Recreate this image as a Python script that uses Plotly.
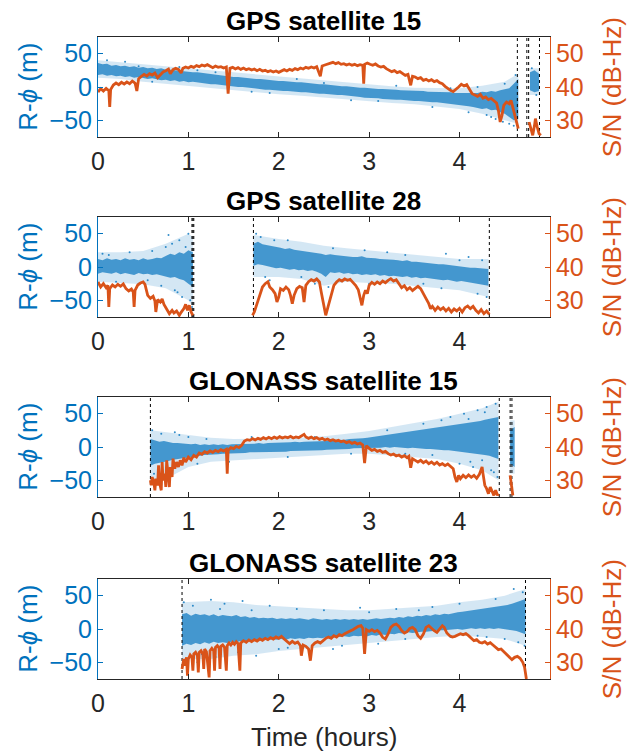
import numpy as np
import plotly.graph_objects as go

BLUE = "#0072BD"
ORANGE = "#D95319"
DARK = "#262626"
FONT = "Liberation Sans, Arial, sans-serif"

titles = ["GPS satellite 15", "GPS satellite 28", "GLONASS satellite 15", "GLONASS satellite 23"]
x_ticks = [0, 1, 2, 3, 4]
left_ticks = [-50, 0, 50]
right_ticks = [30, 40, 50]

# ---------- R-phi (m): dense-core upper / lower values read every 0.05 h, per segment ----------
# panel 1
p1_seg_start = [0.0, 4.78]
p1_hi = [[36, 34, 35, 32, 33, 31, 32, 30, 31, 29, 30, 28, 29, 27, 28, 26, 26, 25, 24, 24,
          23, 22, 22, 21, 20, 19, 19, 17, 17, 16, 15, 15, 14, 13, 13, 12, 12, 11, 10, 10,
          9, 9, 8, 8, 7, 7, 6, 5, 5, 4, 4, 3, 3, 2, 1, 1, 0, 0, -1, -1,
          -2, -2, -3, -3, -3, -4, -4, -5, -5, -5, -6, -6, -6, -7, -7, -7, -8, -8, -8, -9,
          -9, -8, -9, -8, -9, -7, -8, -6, -7, -5, -4, -2, 5, 12],
         [22, 25, 20]]
p1_lo = [[18, 19, 17, 18, 16, 17, 15, 16, 14, 15, 13, 12, 13, 11, 10, 11, 9, 10, 8, 9,
          7, 8, 6, 6, 5, 4, 4, 3, 2, 2, 1, 0, 0, -1, -2, -2, -3, -4, -4, -5,
          -5, -6, -6, -7, -7, -8, -8, -9, -9, -10, -10, -11, -11, -12, -12, -13, -14, -14, -15, -16,
          -16, -17, -17, -18, -18, -19, -19, -19, -20, -20, -21, -21, -22, -22, -23, -23, -24, -24, -25, -26,
          -27, -28, -29, -30, -31, -33, -32, -35, -34, -38, -40, -45, -50, -48],
         [-5, -8, -6]]
# sparse outer envelope (read at coarser times)
p1_env_t = [[0.0, 0.25, 0.5, 0.75, 1.0, 1.25, 1.5, 1.75, 2.0, 2.25, 2.5, 2.75, 3.0, 3.25, 3.5, 3.75, 4.0, 4.25, 4.5, 4.65],
            [4.78, 4.88]]
p1_env_hi = [[40, 37, 34, 31, 28, 25, 21, 18, 15, 12, 10, 6, 4, 1, -1, -2, -2, 2, 8, 20], [28, 28]]
p1_env_lo = [[14, 12, 8, 5, 2, -2, -5, -8, -11, -13, -15, -18, -21, -24, -26, -29, -33, -40, -50, -55], [-12, -12]]
p1_out_t = [0.1, 0.3, 0.6, 0.9, 1.3, 1.7, 2.2, 2.8, 3.3, 3.7, 4.1, 4.2, 4.3, 4.4, 4.5, 4.55, 4.62, 4.6, 4.8, 4.85,
            0.45, 1.1, 1.9, 2.5, 3.1, 3.9, 4.35, 4.48]
p1_out_v = [40, 38, 8, 30, 22, -7, 12, -20, 2, -30, -38, 0, -42, -48, 5, -55, 18, -58, 28, -12,
            31, 25, -9, 6, -21, -2, -45, -52]

# panel 2
p2_seg_start = [0.0, 1.72]
p2_hi = [[12, 10, 13, 11, 12, 10, 13, 11, 12, 10, 13, 11, 12, 14, 13, 16, 20, 18, 22, 20, 25, 22],
         [35, 38, 34, 33, 31, 30, 29, 27, 28, 26, 25, 24, 24, 22, 21, 20, 18, 19, 18, 17,
          17, 16, 15, 15, 16, 14, 14, 13, 12, 12, 11, 11, 10, 9, 10, 8, 8, 7, 6, 6,
          5, 4, 4, 3, 2, 2, 1, 0, -1, -1, -2, -2, -3]]
p2_lo = [[-10, -8, -9, -10, -8, -11, -9, -10, -12, -9, -11, -10, -12, -11, -13, -14, -16, -15, -18, -20, -25, -30],
         [2, 4, 3, 1, 0, -2, -1, -3, -4, -3, -5, -4, -6, -5, -7, -10, -15, -8, -9, -8,
          -10, -9, -11, -10, -12, -11, -12, -11, -13, -12, -14, -13, -14, -15, -14, -16, -15, -17, -16, -18,
          -18, -19, -20, -19, -21, -22, -21, -23, -24, -25, -26, -27, -28]]
p2_env_t = [[0.0, 0.25, 0.5, 0.75, 1.0, 1.05],
            [1.72, 2.0, 2.25, 2.5, 2.75, 3.0, 3.25, 3.5, 3.75, 4.0, 4.32]]
p2_env_hi = [[22, 22, 24, 35, 50, 45], [48, 42, 38, 32, 28, 25, 22, 18, 15, 12, 12]]
p2_env_lo = [[-22, -24, -26, -32, -50, -60], [-15, -15, -18, -28, -22, -24, -25, -28, -32, -35, -45]]
p2_out_t = [0.05, 0.2, 0.35, 0.45, 0.6, 0.7, 0.78, 0.82, 0.85, 0.9, 0.93, 0.97, 1.0, 1.02, 1.04,
            1.75, 1.8, 1.85, 1.9, 2.1, 2.4, 2.55, 2.6, 2.95, 3.0, 3.4, 3.8, 3.85, 4.1, 4.2, 4.3, 4.25,
            0.12, 0.55, 0.75, 0.88, 1.95, 2.25, 3.2, 3.6, 4.0]
p2_out_v = [20, -22, 22, -25, 24, -28, 48, 35, -35, 40, -45, 30, 50, -50, -60,
            50, 45, -15, -20, 40, -25, -30, 28, 25, -25, 18, -32, 20, 15, -40, -45, 10,
            18, -20, 30, -38, 40, -15, 22, -25, 10]

# panel 3
p3_seg_start = [0.58, 4.56]
p3_hi = [[12, 10, 8, 9, 7, 6, 6, 5, 4, 4, 5, 3, 4, 3, 4, 3, 4, 3, 4, 4,
          5, 4, 5, 5, 6, 5, 6, 6, 7, 6, 7, 7, 8, 7, 8, 8, 9, 8, 9, 9,
          10, 10, 11, 11, 12, 12, 13, 13, 14, 15, 15, 16, 17, 18, 19, 20, 21, 22, 23, 24,
          25, 26, 27, 28, 29, 30, 31, 32, 33, 34, 35, 36, 38, 39, 41, 42, 44, 45],
         [25, 30]]
p3_lo = [[-28, -25, -24, -22, -21, -19, -18, -17, -15, -14, -14, -13, -12, -12, -11, -11, -10, -10, -10, -9,
          -9, -9, -8, -8, -8, -8, -7, -8, -7, -7, -7, -6, -6, -6, -6, -5, -5, -5, -5, -4,
          -4, -4, -3, -3, -3, -2, -2, -2, -1, -1, -1, -1, 0, -1, 0, -1, -1, -2, -1, -2,
          -2, -3, -3, -4, -4, -5, -5, -6, -6, -7, -8, -9, -10, -11, -12, -13, -15, -18],
         [-25, -30]]
p3_env_t = [[0.58, 0.75, 1.0, 1.25, 1.5, 1.75, 2.0, 2.25, 2.5, 2.75, 3.0, 3.25, 3.5, 3.75, 4.0, 4.25, 4.43],
            [4.56, 4.61]]
p3_env_hi = [[25, 22, 18, 14, 12, 12, 13, 14, 16, 20, 24, 30, 36, 42, 50, 58, 68], [40, 40]]
p3_env_lo = [[-55, -48, -30, -22, -20, -17, -15, -13, -12, -10, -10, -12, -15, -18, -25, -35, -50], [-40, -40]]
p3_out_t = [0.6, 0.62, 0.65, 0.7, 0.75, 0.8, 0.9, 1.0, 1.1, 1.2, 1.45, 1.7, 2.1, 2.4, 2.8, 3.2,
            3.4, 3.6, 3.7, 3.9, 4.0, 4.05, 4.15, 4.2, 4.3, 4.35, 4.4, 4.42, 4.25, 4.1,
            0.68, 0.85, 3.8, 4.12, 4.28, 4.38]
p3_out_v = [25, -40, -56, 20, -45, -35, 18, 15, -25, 12, -22, 15, -15, 15, -10, 25,
            -10, 35, -12, 45, -25, 50, -30, 55, 60, -35, 65, -45, -20, 42,
            -50, 22, 40, -22, 52, -38]

# panel 4
p4_seg_start = [0.93]
p4_hi = [[22, 24, 20, 23, 21, 22, 20, 22, 19, 21, 20, 19, 21, 18, 19, 17, 18, 16, 17, 16,
          17, 15, 16, 15, 16, 15, 16, 15, 14, 16, 15, 14, 15, 14, 15, 14, 15, 14, 15, 14,
          15, 14, 15, 16, 15, 16, 17, 16, 18, 17, 19, 18, 20, 19, 21, 20, 22, 21, 23, 22,
          24, 25, 26, 27, 28, 28, 29, 30, 31, 32, 33, 34, 36, 38, 40, 42, 45]]
p4_lo = [[-25, -22, -24, -21, -23, -20, -22, -19, -21, -20, -21, -19, -20, -18, -19, -17, -18, -17, -16, -17,
          -15, -16, -15, -16, -14, -15, -14, -15, -13, -14, -13, -14, -12, -13, -12, -12, -11, -12, -10, -11,
          -10, -11, -9, -10, -8, -9, -7, -8, -6, -7, -5, -6, -5, -4, -4, -3, -3, -2, -2, -1,
          -1, 0, -1, 0, 1, 0, 1, 0, 1, 0, 1, 0, -1, -2, -3, -5, -8]]
p4_env_t = [[0.93, 1.25, 1.5, 1.75, 2.0, 2.25, 2.5, 2.75, 3.0, 3.25, 3.5, 3.75, 4.0, 4.25, 4.5, 4.73]]
p4_env_hi = [[40, 42, 40, 36, 34, 32, 30, 28, 28, 30, 32, 35, 40, 44, 50, 60]]
p4_env_lo = [[-45, -45, -40, -38, -33, -30, -28, -25, -22, -18, -15, -12, -10, -12, -15, -25]]
p4_out_t = [0.95, 1.0, 1.05, 1.15, 1.25, 1.3, 1.4, 1.55, 1.6, 1.75, 1.9, 2.0, 2.2, 2.35, 2.5,
            2.7, 2.9, 3.1, 3.3, 3.4, 3.7, 3.9, 4.0, 4.2, 4.4, 4.5, 4.6, 4.65, 4.7, 4.72,
            1.1, 1.35, 1.7, 2.1, 2.6, 3.0, 3.55, 4.3]
p4_out_v = [40, -45, 35, -38, 44, -42, 38, -35, 42, -40, 35, -30, 30, -35, 28,
            -25, 32, -22, 30, -15, 33, -12, 38, -10, 45, -15, 60, -20, 55, -25,
            -50, 30, 28, -28, -30, 25, 28, -12]

# ---------- S/N (dB-Hz) ----------
p1_sn_t = [0.00, 0.03, 0.06, 0.09, 0.12, 0.13, 0.14, 0.17, 0.20, 0.23, 0.26, 0.29, 0.32, 0.35, 0.38, 0.41, 0.43, 0.45, 0.48, 0.51,
           0.54, 0.57, 0.60, 0.63, 0.66, 0.69, 0.72, 0.75, 0.78, 0.80, 0.83, 0.86, 0.89, 0.92, 0.94, 0.97, 1.00, 1.03, 1.06, 1.09,
           1.12, 1.15, 1.18, 1.21, 1.24, 1.27, 1.30, 1.33, 1.36, 1.39, 1.42, 1.44, 1.46, 1.49, 1.52, 1.55, 1.58, 1.61, 1.64, 1.67,
           1.70, 1.73, 1.76, 1.79, 1.82, 1.85, 1.88, 1.91, 1.94, 1.97, 2.00, 2.03, 2.06, 2.09, 2.12, 2.15, 2.18, 2.21, 2.24, 2.27,
           2.30, 2.33, 2.36, 2.39, 2.42, 2.46, 2.48, 2.51, 2.54, 2.57, 2.60, 2.63, 2.66, 2.69, 2.72, 2.75, 2.78, 2.81, 2.84, 2.87,
           2.90, 2.93, 2.94, 2.95, 2.98, 3.01, 3.04, 3.07, 3.10, 3.13, 3.16, 3.19, 3.22, 3.25, 3.28, 3.31, 3.34, 3.37, 3.40, 3.43,
           3.46, 3.48, 3.51, 3.54, 3.57, 3.60, 3.63, 3.66, 3.69, 3.72, 3.75, 3.78, 3.81, 3.84, 3.87, 3.90, 3.93, 3.96, 3.99, 4.02,
           4.05, 4.08, 4.11, 4.14, 4.17, 4.20, 4.23, 4.26, 4.29, 4.32, 4.35, 4.38, 4.41, 4.43, 4.45, 4.47, 4.49, 4.52, 4.55, 4.57,
           4.59, 4.61, 4.63, 4.65, None, 4.77, 4.79, 4.81, 4.83, 4.84, 4.86, 4.88, 4.90]
p1_sn = [38.5, 39.5, 38.8, 39.6, 38.9, 34.0, 39.2, 40.6, 41.2, 40.7, 41.4, 40.9, 41.5, 41.0, 41.8, 41.2, 38.8, 42.5, 43.2, 43.8,
         43.3, 44.0, 43.6, 44.2, 42.8, 43.8, 44.5, 44.9, 45.4, 44.0, 45.2, 45.6, 45.3, 44.2, 45.6, 46.0, 45.7, 46.2, 45.9, 46.4,
         46.1, 46.6, 46.3, 46.7, 46.2, 45.8, 46.3, 45.9, 46.1, 45.7, 46.0, 38.0, 45.6, 45.9, 45.4, 45.8, 45.3, 45.7, 45.2, 45.5,
         45.1, 45.4, 44.9, 45.3, 44.8, 45.0, 44.6, 44.9, 44.5, 44.8, 44.4, 44.9, 45.2, 44.8, 45.3, 45.0, 45.5, 45.2, 45.7, 45.4,
         45.9, 45.6, 46.0, 45.7, 46.1, 43.2, 46.3, 46.6, 46.9, 47.1, 47.4, 47.0, 47.3, 46.8, 47.0, 46.6, 46.9, 46.5, 46.8, 46.4,
         46.7, 46.5, 41.0, 46.8, 47.2, 46.8, 46.5, 46.9, 46.3, 46.0, 46.2, 45.5, 45.0, 44.6, 44.9, 44.3, 44.6, 44.0, 43.5, 43.8,
         40.5, 43.2, 43.0, 42.5, 42.8, 42.0, 42.3, 41.8, 42.2, 41.6, 41.9, 41.3, 41.0, 40.2, 39.5, 39.0, 38.6, 39.2, 40.0, 40.8,
         40.3, 40.7, 39.5, 38.0, 37.6, 37.2, 37.8, 36.6, 37.0, 36.2, 36.6, 35.8, 35.2, 33.0, 29.5, 31.5, 34.5, 35.5, 35.0, 36.0,
         34.0, 32.0, 30.0, 27.5, None, 29.5, 27.0, 25.5, 28.5, 30.5, 28.0, 26.0, 25.5]

p2_sn_t = [0.00, 0.03, 0.06, 0.09, 0.11, 0.12, 0.13, 0.16, 0.19, 0.22, 0.25, 0.28, 0.31, 0.34, 0.37, 0.39, 0.40, 0.41, 0.44, 0.47,
           0.50, 0.52, 0.55, 0.58, 0.61, 0.63, 0.64, 0.66, 0.69, 0.71, 0.73, 0.76, 0.79, 0.82, 0.84, 0.87, 0.90, 0.92, 0.95, 0.97,
           0.99, 1.01, 1.03, 1.05, None,
           1.71, 1.73, 1.76, 1.79, 1.82, 1.85, 1.88, 1.90, 1.93, 1.96, 1.98, 2.00, 2.02, 2.05, 2.08, 2.11, 2.13, 2.15, 2.17, 2.20,
           2.23, 2.26, 2.28, 2.30, 2.33, 2.36, 2.39, 2.42, 2.45, 2.47, 2.49, 2.51, 2.52, 2.54, 2.56, 2.58, 2.61, 2.64, 2.67, 2.70,
           2.73, 2.76, 2.79, 2.82, 2.85, 2.88, 2.90, 2.92, 2.94, 2.96, 2.98, 3.00, 3.03, 3.06, 3.09, 3.12, 3.15, 3.18, 3.21, 3.24,
           3.27, 3.30, 3.33, 3.36, 3.39, 3.42, 3.45, 3.48, 3.51, 3.54, 3.57, 3.60, 3.63, 3.66, 3.68, 3.70, 3.73, 3.76, 3.79, 3.82,
           3.85, 3.88, 3.91, 3.94, 3.97, 4.00, 4.03, 4.06, 4.09, 4.12, 4.15, 4.18, 4.21, 4.24, 4.27, 4.30, 4.33]
p2_sn = [35.5, 34.0, 35.0, 33.8, 34.5, 28.0, 33.5, 34.6, 34.0, 34.8, 34.2, 34.9, 33.5, 32.8, 33.4, 32.5, 28.0, 33.0, 34.6, 35.2,
         35.5, 34.8, 31.5, 30.6, 31.2, 29.8, 26.5, 30.2, 29.5, 30.4, 28.8, 27.5, 26.0, 27.0, 26.2, 26.8, 25.5, 26.4, 27.5, 28.8,
         27.0, 28.5, 26.5, 25.5, None,
         25.5, 26.5, 29.0, 31.5, 34.0, 35.0, 35.6, 34.0, 33.2, 32.0, 29.5, 31.0, 33.5, 33.0, 34.0, 33.2, 31.5, 29.0, 31.5, 33.5,
         34.2, 33.8, 29.5, 34.5, 35.6, 36.2, 35.8, 36.4, 35.5, 32.5, 30.0, 27.0, 25.5, 27.5, 29.5, 32.0, 34.5, 35.5, 36.2, 35.8,
         36.4, 36.0, 36.3, 35.4, 34.5, 33.2, 31.0, 28.5, 31.5, 33.0, 32.0, 34.5, 35.4, 34.8, 35.5, 35.0, 35.8, 35.3, 36.0, 36.5,
         35.8, 36.2, 35.0, 33.8, 34.4, 33.2, 33.8, 32.9, 33.6, 34.2, 33.5, 31.8, 30.5, 29.0, 27.5, 28.2, 27.0, 28.0, 27.2, 27.8,
         26.8, 27.6, 26.5, 27.4, 26.8, 27.6, 26.5, 27.8, 28.3, 27.5, 28.2, 27.0, 26.2, 27.2, 26.0, 26.8, 25.8]

p3_sn_t = [0.58, 0.59, 0.60, 0.62, 0.63, 0.64, 0.66, 0.67, 0.68, 0.70, 0.71, 0.72, 0.74, 0.75, 0.76, 0.78, 0.79, 0.80, 0.82, 0.83,
           0.85, 0.87, 0.89, 0.91, 0.93, 0.95, 0.97, 1.00, 1.03, 1.06, 1.09, 1.12, 1.15, 1.18, 1.21, 1.24, 1.27, 1.30, 1.33, 1.36,
           1.39, 1.42, 1.43, 1.44, 1.47, 1.50, 1.53, 1.56, 1.59, 1.62, 1.65, 1.68, 1.71, 1.74, 1.77, 1.80, 1.83, 1.86, 1.89, 1.92,
           1.95, 1.98, 2.01, 2.04, 2.07, 2.10, 2.13, 2.16, 2.19, 2.22, 2.25, 2.28, 2.30, 2.33, 2.36, 2.39, 2.42, 2.45, 2.48, 2.51,
           2.54, 2.57, 2.60, 2.63, 2.66, 2.69, 2.72, 2.75, 2.78, 2.81, 2.84, 2.87, 2.90, 2.93, 2.95, 2.97, 3.00, 3.03, 3.06, 3.09,
           3.12, 3.15, 3.18, 3.21, 3.24, 3.27, 3.30, 3.33, 3.36, 3.39, 3.42, 3.44, 3.46, 3.48, 3.51, 3.54, 3.57, 3.60, 3.63, 3.66,
           3.69, 3.72, 3.75, 3.78, 3.81, 3.84, 3.87, 3.90, 3.93, 3.95, 3.97, 3.99, 4.01, 4.04, 4.07, 4.10, 4.13, 4.16, 4.19, 4.22,
           4.24, 4.25, 4.26, 4.28, 4.30, 4.32, 4.34, 4.36, 4.38, 4.40, 4.42, 4.43, None, 4.56, 4.57, 4.58, 4.59]
p3_sn = [30.0, 28.5, 31.0, 29.0, 27.0, 30.5, 28.5, 34.5, 29.5, 27.0, 35.5, 30.0, 32.0, 28.0, 36.0, 30.5, 28.0, 34.0, 31.0, 36.5,
         33.5, 35.5, 34.0, 36.0, 34.5, 36.8, 35.5, 37.0, 36.2, 37.5, 37.0, 38.2, 37.8, 38.6, 38.2, 38.8, 38.4, 39.0, 38.6, 39.2,
         38.8, 39.3, 32.0, 39.0, 39.8, 39.5, 40.2, 39.8, 40.5, 41.8, 42.2, 42.0, 42.5, 42.1, 42.6, 42.3, 42.8, 42.4, 42.9, 42.5,
         43.0, 42.6, 43.1, 42.7, 43.0, 42.8, 43.2, 42.7, 43.0, 42.8, 43.3, 43.8, 43.0, 42.6, 43.0, 42.5, 42.8, 42.3, 42.6, 42.1,
         42.4, 41.9, 42.2, 41.8, 42.0, 41.6, 41.8, 41.3, 41.6, 41.1, 41.4, 40.9, 41.2, 40.6, 35.2, 40.4, 39.6, 39.0, 39.3, 38.7,
         39.0, 38.4, 38.7, 38.0, 37.6, 37.9, 37.3, 37.6, 37.0, 37.4, 36.8, 37.2, 33.8, 36.5, 36.0, 35.5, 36.0, 35.3, 35.8, 35.0,
         35.5, 34.8, 35.4, 34.6, 35.0, 34.4, 34.9, 34.2, 33.5, 31.0, 29.5, 31.5, 30.5, 31.5, 30.8, 31.6, 30.9, 31.5, 30.6, 31.8,
         33.5, 34.0, 32.0, 28.5, 27.5, 26.0, 28.0, 26.5, 25.5, 27.0, 25.5, 26.0, None, 31.5, 29.0, 27.0, 25.5]

p4_sn_t = [0.93, 0.94, 0.95, 0.96, 0.98, 0.99, 1.00, 1.02, 1.04, 1.05, 1.06, 1.08, 1.10, 1.11, 1.12, 1.14, 1.16, 1.17, 1.18, 1.20,
           1.22, 1.23, 1.24, 1.26, 1.28, 1.29, 1.30, 1.32, 1.34, 1.35, 1.36, 1.38, 1.40, 1.42, 1.43, 1.45, 1.47, 1.49, 1.51, 1.53,
           1.55, 1.57, 1.58, 1.61, 1.64, 1.67, 1.70, 1.73, 1.76, 1.79, 1.82, 1.85, 1.88, 1.91, 1.94, 1.97, 2.00, 2.03, 2.06, 2.09,
           2.12, 2.15, 2.18, 2.21, 2.24, 2.25, 2.27, 2.30, 2.33, 2.35, 2.37, 2.40, 2.43, 2.46, 2.49, 2.52, 2.55, 2.58, 2.61, 2.64,
           2.67, 2.70, 2.73, 2.76, 2.79, 2.82, 2.85, 2.88, 2.91, 2.93, 2.95, 2.97, 3.00, 3.03, 3.06, 3.09, 3.12, 3.15, 3.18, 3.21,
           3.24, 3.27, 3.30, 3.33, 3.36, 3.39, 3.42, 3.45, 3.48, 3.51, 3.54, 3.57, 3.60, 3.63, 3.66, 3.69, 3.72, 3.75, 3.78, 3.81,
           3.83, 3.86, 3.89, 3.92, 3.95, 3.98, 4.01, 4.04, 4.07, 4.10, 4.13, 4.16, 4.19, 4.22, 4.25, 4.28, 4.31, 4.34, 4.37, 4.40,
           4.43, 4.46, 4.49, 4.52, 4.55, 4.58, 4.61, 4.64, 4.67, 4.70, 4.72, 4.73, 4.74]
p4_sn = [28.0, 29.5, 31.0, 29.0, 31.5, 26.0, 31.0, 32.2, 31.5, 27.5, 32.5, 33.0, 32.0, 27.0, 33.0, 33.5, 32.5, 28.0, 34.0, 33.2,
         26.5, 25.5, 33.5, 34.2, 33.5, 27.5, 34.5, 35.0, 34.2, 28.0, 34.8, 35.2, 34.5, 27.5, 35.0, 35.8, 35.2, 36.0, 35.4, 36.2,
         35.6, 27.5, 35.8, 36.5, 36.0, 36.7, 36.2, 36.8, 36.4, 37.0, 36.6, 37.2, 36.8, 37.4, 37.0, 37.6, 37.2, 37.8, 37.0, 36.2,
         35.6, 36.3, 35.7, 36.1, 35.0, 32.0, 35.2, 34.8, 34.0, 30.5, 35.0, 35.8, 36.2, 35.8, 36.6, 37.2, 37.6, 37.2, 38.0, 37.6,
         38.3, 38.0, 38.6, 38.9, 39.4, 39.8, 40.3, 40.8, 41.0, 40.2, 32.5, 39.8, 39.3, 39.8, 39.2, 39.6, 38.8, 37.5, 37.0, 38.5,
         40.5, 41.2, 41.5, 40.8, 39.5, 38.8, 39.2, 40.2, 40.5, 39.8, 38.0, 37.2, 38.5, 40.5, 41.0, 40.2, 39.5, 39.0, 40.0, 41.0,
         40.5, 38.8, 38.0, 37.6, 37.8, 38.2, 38.6, 38.3, 38.6, 38.0, 37.2, 36.5, 36.8, 36.0, 35.8, 36.2, 35.5, 35.9, 35.2, 34.5,
         33.8, 34.0, 33.2, 32.5, 31.5, 30.8, 31.5, 31.8, 31.2, 30.0, 28.5, 26.0, 25.0]

# ---------- dotted markers (loss-of-lock times, h) ----------
p1_slips = [4.64, 4.745, 4.765, 4.885]
p2_slips = [1.04, 1.05, 1.06, 1.72, 4.33]
p3_slips = [0.58, 4.44, 4.56, 4.58]
p4_slips = [0.93, 4.73]

panels = [
    (p1_seg_start, p1_hi, p1_lo, p1_env_t, p1_env_hi, p1_env_lo, p1_out_t, p1_out_v, p1_sn_t, p1_sn, p1_slips),
    (p2_seg_start, p2_hi, p2_lo, p2_env_t, p2_env_hi, p2_env_lo, p2_out_t, p2_out_v, p2_sn_t, p2_sn, p2_slips),
    (p3_seg_start, p3_hi, p3_lo, p3_env_t, p3_env_hi, p3_env_lo, p3_out_t, p3_out_v, p3_sn_t, p3_sn, p3_slips),
    (p4_seg_start, p4_hi, p4_lo, p4_env_t, p4_env_hi, p4_env_lo, p4_out_t, p4_out_v, p4_sn_t, p4_sn, p4_slips),
]

STEP = 0.05
W, H = 629, 752
X0, X1 = 92, 549
tops = [37, 217, 397, 579]
PH = 100


def band(fig, ts, hi, lo, color, xa, ya):
    fig.add_trace(go.Scatter(x=list(ts) + list(ts)[::-1], y=list(hi) + list(lo)[::-1], mode="lines",
                             fill="toself", fillcolor=color, line=dict(width=0),
                             xaxis=xa, yaxis=ya, showlegend=False, hoverinfo="skip"))


fig = go.Figure()
annotations = []
for i, (starts, his, los, et, ehi, elo, ot, ov, snt, sn, slips) in enumerate(panels):
    n = i + 1
    xa = "x" if n == 1 else f"x{n}"
    yl = "y" if n == 1 else f"y{2*n-1}"
    yr = f"y{2*n}"
    # sparse outer part of the R-phi cloud
    for ts, hi, lo in zip(et, ehi, elo):
        band(fig, ts, hi, lo, "rgba(0,114,189,0.17)", xa, yl)
    # dense core of the R-phi cloud
    for s, hi, lo in zip(starts, his, los):
        ts = [s + k * STEP for k in range(len(hi))]
        band(fig, ts, hi, lo, "rgba(0,114,189,0.68)", xa, yl)
    fig.add_trace(go.Scatter(x=ot, y=ov, mode="markers", marker=dict(color=BLUE, size=2, opacity=0.8),
                             xaxis=xa, yaxis=yl, showlegend=False, hoverinfo="skip"))
    sx, sy = [], []
    for t in slips:
        sx += [t, t, None]
        sy += [-75, 75, None]
    fig.add_trace(go.Scatter(x=sx, y=sy, mode="lines", line=dict(color="black", width=1, dash="dot"),
                             xaxis=xa, yaxis=yl, showlegend=False, hoverinfo="skip"))
    fig.add_trace(go.Scatter(x=snt, y=sn, mode="lines", line=dict(color=ORANGE, width=2.8),
                             xaxis=xa, yaxis=yr, showlegend=False, hoverinfo="skip", connectgaps=False))

    top = tops[i]
    bot = top + PH
    ydom = [1 - bot / H, 1 - top / H]
    xdom = [X0 / W, X1 / W]
    tickfont = dict(family=FONT, size=25, color=DARK)
    fig.update_layout(**{
        ("xaxis" if n == 1 else f"xaxis{n}"): dict(
            domain=xdom, anchor=yl, range=[0, 5], tickvals=x_ticks, ticks="inside", ticklen=5,
            tickcolor=DARK, showline=True, linecolor=DARK, linewidth=1, mirror="ticks",
            showgrid=False, zeroline=False, tickfont=tickfont, ticklabelstandoff=2),
        ("yaxis" if n == 1 else f"yaxis{2*n-1}"): dict(
            domain=ydom, anchor=xa, range=[-75, 75], tickvals=left_ticks, ticks="inside", ticklen=5,
            tickcolor=BLUE, showline=True, linecolor=BLUE, linewidth=1, showgrid=False, zeroline=False,
            tickfont=dict(family=FONT, size=25, color=BLUE)),
        f"yaxis{2*n}": dict(
            domain=ydom, anchor=xa, overlaying=yl, side="right", range=[25, 55], tickvals=right_ticks,
            ticks="inside", ticklen=5, tickcolor=ORANGE, showline=True, linecolor=ORANGE, linewidth=1,
            showgrid=False, zeroline=False, tickfont=dict(family=FONT, size=25, color=ORANGE)),
    })
    cy = 1 - (top + PH / 2) / H
    annotations.append(dict(text=f"<b>{titles[i]}</b>", x=(X0 + X1) / 2 / W, y=1 - (top - 16) / H,
                            xref="paper", yref="paper", showarrow=False, xanchor="center", yanchor="middle",
                            font=dict(family=FONT, size=26, color="black")))
    annotations.append(dict(text="R-<i>ϕ</i> (m)", x=21 / W, y=cy, xref="paper", yref="paper",
                            showarrow=False, textangle=-90, xanchor="center", yanchor="middle",
                            font=dict(family=FONT, size=26, color=BLUE)))
    annotations.append(dict(text="S/N (dB-Hz)", x=612 / W, y=cy, xref="paper", yref="paper",
                            showarrow=False, textangle=-90, xanchor="center", yanchor="middle",
                            font=dict(family=FONT, size=26, color=ORANGE)))

annotations.append(dict(text="Time (hours)", x=(X0 + X1) / 2 / W, y=1 - 737 / H, xref="paper", yref="paper",
                        showarrow=False, xanchor="center", yanchor="middle",
                        font=dict(family=FONT, size=26, color=DARK)))

fig.update_layout(width=W, height=H, margin=dict(l=0, r=0, t=0, b=0), plot_bgcolor="white",
                  paper_bgcolor="white", annotations=annotations, showlegend=False)
fig.write_html("out.html")
